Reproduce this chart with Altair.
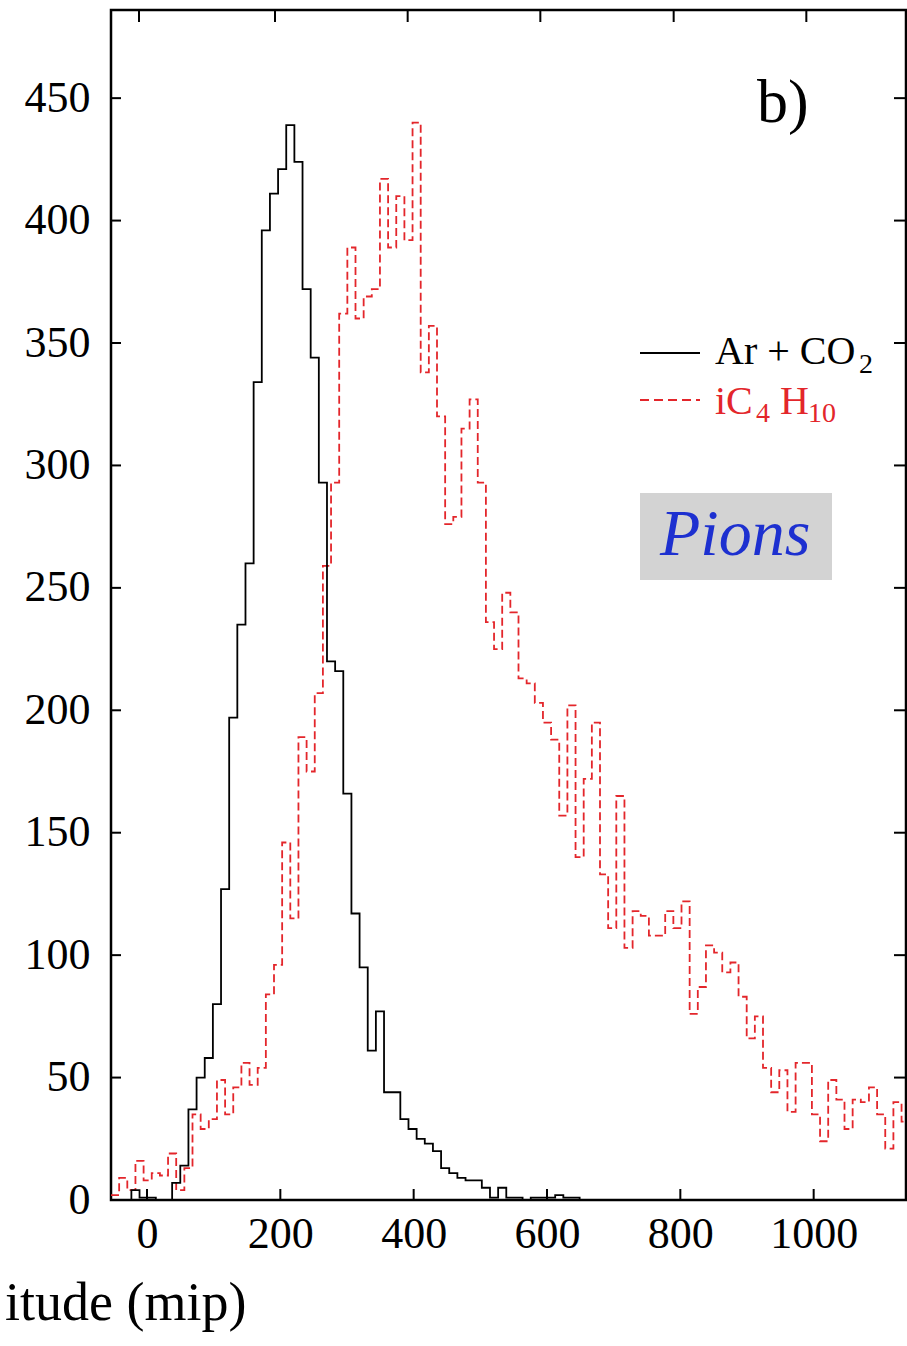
import altair as alt
import pandas as pd

# ---------------- data ----------------
X_MIN, X_MAX = -54, 1138.5
Y_MIN, Y_MAX = 0, 486
BIN_WIDTH = 12.225
RED_BIN_START = -54
BLACK_BIN_START = -60.1

ar_co2 = [0, 0, 0, 4, 1, 1, 0, 0, 7, 14, 37, 50, 58, 80, 127, 197, 235, 260, 334, 396,
          411, 421, 439, 424, 372, 344, 293, 220, 216, 166, 117, 95, 61, 77, 44, 44, 33, 29, 25, 23,
          20, 13, 11, 9, 8, 8, 5, 1, 5, 1, 1, 0, 1, 1, 1, 2, 1, 1, 0, 0, 0]

ic4h10 = [2, 9, 4, 16, 8, 11, 10, 19, 4, 13, 35, 29, 33, 49, 35, 46, 56, 47, 54, 84,
          96, 146, 115, 189, 175, 207, 259, 293, 362, 389, 360, 369, 372, 417, 389, 410, 392, 440, 338, 357,
          320, 276, 279, 315, 327, 293, 236, 225, 248, 240, 213, 211, 203, 195, 188, 157, 202, 140, 172, 195,
          133, 111, 165, 103, 118, 116, 108, 108, 118, 111, 122, 76, 87, 104, 101, 93, 97, 83, 66, 75,
          54, 44, 53, 36, 56, 56, 35, 24, 49, 41, 29, 41, 40, 46, 35, 21, 40, 32]

x_tick_values = [0, 200, 400, 600, 800, 1000]
x_top_tick_values = [-12, 192, 391, 590, 790, 989]
y_tick_values = [0, 50, 100, 150, 200, 250, 300, 350, 400, 450]

legend_labels = ["Ar + CO", "2", "iC", "4", "H", "10"]
panel_label = "b)"
particle_label = "Pions"
x_title_visible = "itude (mip)"   # the axis title is cut at the left edge of the figure

# ---------------- layout ----------------
W, H = 795, 1190
PAD_L, PAD_T = 111, 10
FONT = "Liberation Serif"
RED = "#e3262b"
BLUE = "#1d30d0"


def steps(counts, start):
    xs = [start + i * BIN_WIDTH for i in range(len(counts))]
    ys = list(counts)
    xs.append(start + len(counts) * BIN_WIDTH)
    ys.append(counts[-1])
    return pd.DataFrame({"x": xs, "y": ys})


xscale = alt.Scale(domain=[X_MIN, X_MAX], nice=False, zero=False)
yscale = alt.Scale(domain=[Y_MIN, Y_MAX], nice=False, zero=False)

xaxis = alt.Axis(values=x_tick_values, format="d", ticks=False, domain=False, grid=False, title=None,
                 labelFont=FONT, labelFontSize=44, labelPadding=12, labelColor="black",
                 labelFlush=False, labelOverlap=False)
yaxis = alt.Axis(values=y_tick_values, format="d", ticks=False, domain=False, grid=False, title=None,
                 labelFont=FONT, labelFontSize=44, labelPadding=21, labelColor="black",
                 labelOverlap=False)

red_line = alt.Chart(steps(ic4h10, RED_BIN_START)).mark_line(
    interpolate="step-after", color=RED, strokeWidth=1.8, strokeDash=[8, 4], clip=True
).encode(x=alt.X("x:Q", scale=xscale, axis=xaxis), y=alt.Y("y:Q", scale=yscale, axis=yaxis))

black_line = alt.Chart(steps(ar_co2, BLACK_BIN_START)).mark_line(
    interpolate="step-after", color="black", strokeWidth=1.8, clip=True
).encode(x=alt.X("x:Q", scale=xscale), y=alt.Y("y:Q", scale=yscale))

# inward ticks
left_ticks = alt.Chart(pd.DataFrame({"v": y_tick_values})).mark_rule(color="black", strokeWidth=2).encode(
    y=alt.Y("v:Q", scale=yscale), x=alt.value(0), x2=alt.value(10))
right_ticks = alt.Chart(pd.DataFrame({"v": y_tick_values})).mark_rule(color="black", strokeWidth=2).encode(
    y=alt.Y("v:Q", scale=yscale), x=alt.value(W - 12), x2=alt.value(W))
bottom_ticks = alt.Chart(pd.DataFrame({"v": x_tick_values})).mark_rule(color="black", strokeWidth=2).encode(
    x=alt.X("v:Q", scale=xscale), y=alt.value(H - 11), y2=alt.value(H))
top_ticks = alt.Chart(pd.DataFrame({"v": x_top_tick_values})).mark_rule(color="black", strokeWidth=2).encode(
    x=alt.X("v:Q", scale=xscale), y=alt.value(0), y2=alt.value(12))


def text_layer(txt, px, py, size, color="black", style="normal", weight="normal"):
    return alt.Chart(pd.DataFrame({"t": [txt]})).mark_text(
        font=FONT, fontSize=size, color=color, align="left", baseline="alphabetic",
        fontStyle=style, fontWeight=weight
    ).encode(text="t:N", x=alt.value(px - PAD_L), y=alt.value(py - PAD_T))


# legend samples
leg_black = alt.Chart(pd.DataFrame({"a": [0]})).mark_rule(color="black", strokeWidth=1.8).encode(
    x=alt.value(640 - PAD_L), x2=alt.value(700 - PAD_L), y=alt.value(353 - PAD_T))
leg_red = alt.Chart(pd.DataFrame({"a": [0]})).mark_rule(color=RED, strokeWidth=1.8, strokeDash=[9, 5]).encode(
    x=alt.value(640 - PAD_L), x2=alt.value(700 - PAD_L), y=alt.value(400 - PAD_T))

# grey box behind "Pions"
pion_box = alt.Chart(pd.DataFrame({"a": [0]})).mark_rect(color="#d3d3d3").encode(
    x=alt.value(640 - PAD_L), x2=alt.value(832 - PAD_L),
    y=alt.value(493 - PAD_T), y2=alt.value(580 - PAD_T))

texts = [
    text_layer(panel_label, 757, 122, 62),
    text_layer(legend_labels[0], 715, 364, 40),
    text_layer(legend_labels[1], 859, 373, 28),
    text_layer(legend_labels[2], 715, 414, 40, RED),
    text_layer(legend_labels[3], 756, 422, 28, RED),
    text_layer(legend_labels[4], 780, 414, 40, RED),
    text_layer(legend_labels[5], 808, 422, 28, RED),
    text_layer(particle_label, 660, 555, 66, BLUE, style="italic"),
    text_layer(x_title_visible, 5, 1320, 54),
]

chart = alt.layer(
    pion_box, red_line, black_line, left_ticks, right_ticks, bottom_ticks, top_ticks,
    leg_black, leg_red, *texts
).properties(
    width=W, height=H,
    padding={"left": PAD_L, "top": PAD_T, "right": 1, "bottom": 146},
    autosize=alt.AutoSizeParams(type="none"),
    background="white",
).configure_view(stroke="black", strokeWidth=2.5)

chart.save("out.html", embed_options={"renderer": "svg", "actions": False})
